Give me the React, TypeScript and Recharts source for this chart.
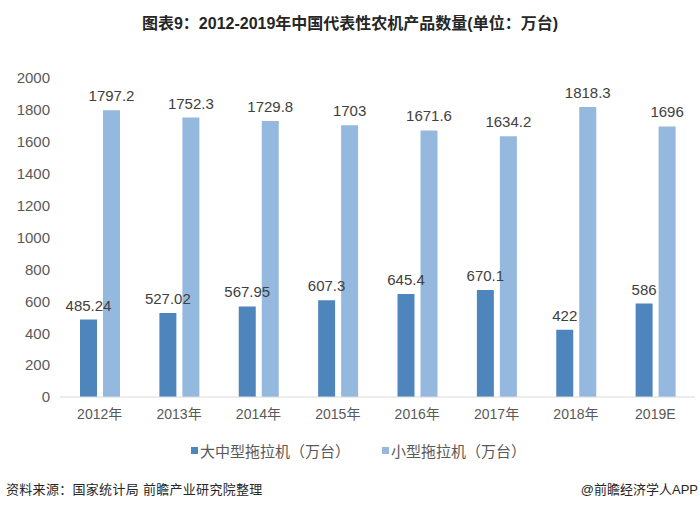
import { BarChart, Bar, XAxis, YAxis, LabelList } from 'recharts';

const YEARS = ['2012年', '2013年', '2014年', '2015年', '2016年', '2017年', '2018年', '2019E'];
const LARGE = [485.24, 527.02, 567.95, 607.3, 645.4, 670.1, 422, 586];
const SMALL = [1797.2, 1752.3, 1729.8, 1703, 1671.6, 1634.2, 1818.3, 1696];
const Y_TICKS = [0, 200, 400, 600, 800, 1000, 1200, 1400, 1600, 1800, 2000];

const NAME_LARGE = '大中型拖拉机（万台）';
const NAME_SMALL = '小型拖拉机（万台）';

const DARK = '#4f85bd';
const LIGHT = '#95b8df';
const FONT = '"Liberation Sans", Arial, "Noto Sans CJK SC", sans-serif';

const data = YEARS.map((y, i) => ({ year: y, large: LARGE[i], small: SMALL[i] }));

const App = () => {
  return (
    <div style={{ position: 'absolute', left: 0, top: 0, width: 700, height: 507, background: '#fff', fontFamily: FONT }}>
      <div style={{ position: 'absolute', top: 10, left: 0, width: 700, textAlign: 'center', fontSize: 16, fontWeight: 'bold', color: '#262626' }}>
        图表9：2012-2019年中国代表性农机产品数量(单位：万台)
      </div>
      <BarChart
        width={700}
        height={507}
        data={data}
        margin={{ top: 78, right: 5, left: 8, bottom: 80 }}
        barSize={17}
        barGap={6}
      >
        <XAxis
          dataKey="year"
          height={30}
          tickLine={false}
          axisLine={{ stroke: '#d9d9d9' }}
          tick={{ fontSize: 14, fill: '#595959', fontFamily: FONT }}
          tickMargin={6}
        />
        <YAxis
          width={52}
          domain={[0, 2000]}
          ticks={Y_TICKS}
          axisLine={false}
          tickLine={false}
          tick={{ fontSize: 15, fill: '#595959', fontFamily: FONT }}
          tickMargin={4}
        />
        <Bar dataKey="large" name={NAME_LARGE} fill={DARK} isAnimationActive={false}>
          <LabelList dataKey="large" position="top" offset={9} style={{ fontSize: 15, fill: '#404040', fontFamily: FONT }} />
        </Bar>
        <Bar dataKey="small" name={NAME_SMALL} fill={LIGHT} isAnimationActive={false}>
          <LabelList dataKey="small" position="top" offset={9} style={{ fontSize: 15, fill: '#404040', fontFamily: FONT }} />
        </Bar>
      </BarChart>
      <div style={{ position: 'absolute', top: 440, left: 191, display: 'flex', alignItems: 'center', fontSize: 15, color: '#595959' }}>
        <span style={{ display: 'inline-block', width: 7, height: 7, background: DARK, marginRight: 2 }} />
        <span>{NAME_LARGE}</span>
        <span style={{ display: 'inline-block', width: 7, height: 7, background: LIGHT, marginLeft: 32, marginRight: 2 }} />
        <span>{NAME_SMALL}</span>
      </div>
      <div style={{ position: 'absolute', top: 479, left: 6, fontSize: 13, letterSpacing: 0.3, color: '#262626' }}>
        资料来源：国家统计局 前瞻产业研究院整理
      </div>
      <div style={{ position: 'absolute', top: 479, right: 2, fontSize: 13, color: '#262626' }}>
        @前瞻经济学人APP
      </div>
    </div>
  );
};

export default App;
